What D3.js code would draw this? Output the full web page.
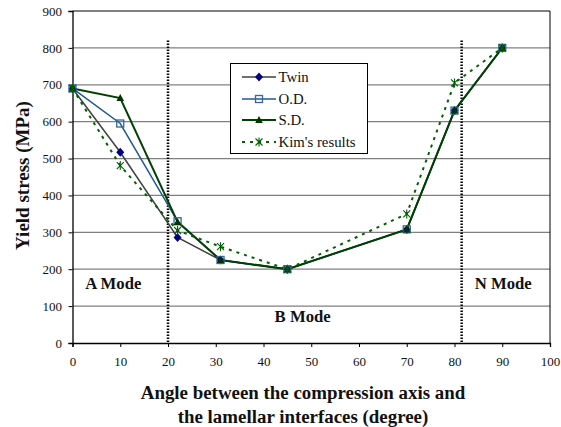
<!DOCTYPE html>
<html><head><meta charset="utf-8">
<script src="https://cdn.jsdelivr.net/npm/d3@7"></script>
<style>body{margin:0;background:#fff}svg{display:block}svg text{font-family:"Liberation Serif","Times New Roman",serif}</style>
</head><body><svg id="c" width="561" height="427"></svg>
<script>
const angles = [0, 10, 22, 31, 45, 70, 80, 90];
const twin = [690, 517, 286, 225, 200, 308, 630, 800];
const od = [690, 595, 330, 225, 200, 308, 630, 800];
const sd = [690, 664, 328, 225, 200, 308, 630, 800];
const kim = [690, 481, 305, 261, 200, 350, 705, 800];
const seriesNames = ["Twin", "O.D.", "S.D.", "Kim's results"];
const xTicks = [0,10,20,30,40,50,60,70,80,90,100];
const yTicks = [0,100,200,300,400,500,600,700,800,900];
const modeLines = [20, 81.5];
const modeLineTop = 820;
const modeLabels = [{t:"A Mode", x:8.55, y:163}, {t:"B Mode", x:48.2, y:74}, {t:"N Mode", x:90.2, y:163}];

const FONT = "'Liberation Serif','Times New Roman',serif";
const svg = d3.select("#c");
const L = 72.5, R = 550, T = 11, B = 343;
const x = d3.scaleLinear().domain([0,100]).range([L,R]);
const y = d3.scaleLinear().domain([0,900]).range([B,T]);

// gridlines
svg.append("g").selectAll("line").data(yTicks.filter(d=>d>0 && d<900)).join("line")
  .attr("x1",L).attr("x2",R).attr("y1",d=>y(d)).attr("y2",d=>y(d))
  .attr("stroke","#808080").attr("stroke-width",1.2);
// frame top/right
svg.append("line").attr("x1",L).attr("x2",R).attr("y1",y(900)).attr("y2",y(900)).attr("stroke","#000").attr("stroke-width",1);
svg.append("line").attr("x1",R).attr("x2",R).attr("y1",y(900)).attr("y2",B).attr("stroke","#000").attr("stroke-width",1);

// axes
const xa = svg.append("g").attr("transform",`translate(0,${B})`)
  .call(d3.axisBottom(x).tickValues(xTicks).tickSize(4).tickPadding(10));
const ya = svg.append("g").attr("transform",`translate(${L},0)`)
  .call(d3.axisLeft(y).tickValues(yTicks).tickSize(4).tickPadding(6.5));
[xa,ya].forEach(a=>{a.attr("font-family",FONT);
  a.select(".domain").attr("stroke","#000").attr("stroke-width",1.3);
  a.selectAll(".tick line").attr("stroke","#000").attr("stroke-width",1);
  a.selectAll("text").attr("font-size",13).style("font-family",FONT).attr("fill","#111");});

// mode dotted lines
svg.append("g").selectAll("line").data(modeLines).join("line")
  .attr("x1",d=>x(d)).attr("x2",d=>x(d)).attr("y1",y(modeLineTop)).attr("y2",B)
  .attr("stroke","#000").attr("stroke-width",2.5).attr("stroke-dasharray","1.6,1.4");

svg.append("g").selectAll("text").data(modeLabels).join("text")
  .attr("x",d=>x(d.x)).attr("y",d=>y(d.y)).attr("dy","0.35em").attr("text-anchor","middle")
  .style("font-family",FONT).attr("font-weight","bold").attr("font-size",16.7).attr("fill","#111").text(d=>d.t);

// series
const data = [
  {name:seriesNames[0], vals:twin, color:"#404040", mcolor:"#000080", w:1.5, dash:null, marker:"diamond"},
  {name:seriesNames[1], vals:od, color:"#1f5a96", mcolor:"#336699", w:1.5, dash:null, marker:"square"},
  {name:seriesNames[2], vals:sd, color:"#004000", mcolor:"#003300", w:2, dash:null, marker:"triangle"},
  {name:seriesNames[3], vals:kim, color:"#006000", mcolor:"#006000", w:2, dash:"3,5", marker:"star"}
];
function drawMarker(g, type, cx, cy, s){
  if(type==="diamond") g.append("path").attr("d",`M${cx},${cy-4.5}L${cx+4},${cy}L${cx},${cy+4.5}L${cx-4},${cy}Z`).attr("fill",s.mcolor);
  else if(type==="square") g.append("rect").attr("x",cx-3.5).attr("y",cy-3.5).attr("width",7).attr("height",7).attr("fill","none").attr("stroke",s.mcolor).attr("stroke-width",1.3);
  else if(type==="triangle") g.append("path").attr("d",`M${cx},${cy-4}L${cx+3.8},${cy+3}L${cx-3.8},${cy+3}Z`).attr("fill",s.mcolor);
  else if(type==="star") g.append("path").attr("d",`M${cx-3.5},${cy-3.5}L${cx+3.5},${cy+3.5}M${cx+3.5},${cy-3.5}L${cx-3.5},${cy+3.5}M${cx},${cy-4.5}L${cx},${cy+4.5}`).attr("stroke",s.mcolor).attr("stroke-width",1.1).attr("fill","none");
}
const line = d3.line().x(d=>x(d[0])).y(d=>y(d[1]));
data.forEach(s=>{
  const pts = angles.map((a,i)=>[a,s.vals[i]]);
  svg.append("path").datum(pts).attr("d",line).attr("fill","none").attr("stroke",s.color)
    .attr("stroke-width",s.w).attr("stroke-dasharray",s.dash);
});
data.forEach(s=>{
  const g = svg.append("g");
  angles.forEach((a,i)=>drawMarker(g, s.marker, x(a), y(s.vals[i]), s));
});

// legend
const lg = svg.append("g");
lg.append("rect").attr("x",230.5).attr("y",63.5).attr("width",137).attr("height",90).attr("fill","#fff").attr("stroke","#000").attr("stroke-width",1);
const ly = [77, 99, 120, 142];
data.forEach((s,i)=>{
  const g = lg.append("g");
  g.append("line").attr("x1",242).attr("x2",276).attr("y1",ly[i]).attr("y2",ly[i]).attr("stroke",s.color).attr("stroke-width",s.w).attr("stroke-dasharray",s.dash);
  drawMarker(g, s.marker, 259, ly[i], s);
  g.append("text").attr("x",278.5).attr("y",ly[i]).attr("dy","0.35em").style("font-family",FONT).attr("font-size",14.8).attr("fill","#111").text(s.name);
});

// axis titles
svg.append("text").attr("transform",`translate(22,175.5) rotate(-90)`).attr("text-anchor","middle")
  .attr("dy","0.35em").style("font-family",FONT).attr("font-weight","bold").attr("font-size",19).attr("fill","#111").text("Yield stress (MPa)");
const xt = svg.append("text").attr("text-anchor","middle").style("font-family",FONT).attr("font-weight","bold").attr("font-size",18.9).attr("fill","#111");
xt.append("tspan").attr("x",303).attr("y",399).text("Angle between the compression axis and");
xt.append("tspan").attr("x",303).attr("y",422.5).text("the lamellar interfaces (degree)");
</script></body></html>
